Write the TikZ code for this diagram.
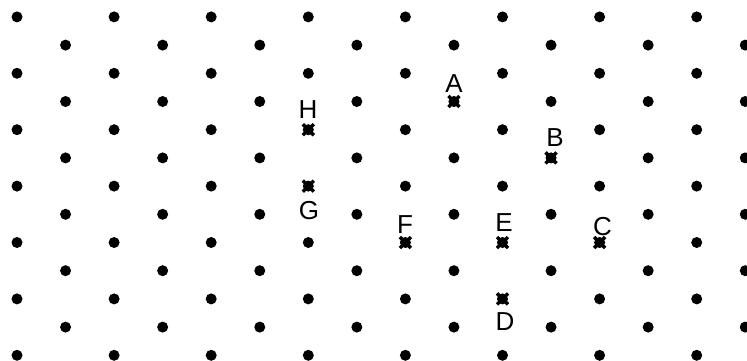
\documentclass[tikz,border=0pt]{standalone}
\usepackage{fontspec}
\setmainfont{Liberation Sans}
\begin{document}
\begin{tikzpicture}[x=1pt,y=-1pt,
  dot/.style={circle,fill=black,inner sep=0pt,minimum size=11pt},
  lbl/.style={anchor=base,inner sep=0pt,font=\fontsize{26}{30}\selectfont},
  markline/.style={line width=3.4pt,line cap=butt}]
\useasboundingbox (0,0) rectangle (747,360);
% lattice of dots
\foreach \r in {0,...,12}{
  \pgfmathtruncatemacro{\odd}{mod(\r,2)}
  \foreach \k in {0,...,7}{
    \pgfmathsetmacro{\xx}{17+48.55*\odd+97.1*\k}
    \pgfmathsetmacro{\yy}{16.9+28.2*\r}
    \node[dot] (d-\r-\k) at (\xx,\yy) {};
  }
}
% marked points
\foreach \n/\r/\k in {A/3/4,B/5/5,H/4/3,G/6/3,F/8/4,E/8/5,C/8/6,D/10/5}{
  \coordinate (p\n) at (d-\r-\k);
  \fill (p\n) circle (5pt);
  \draw[markline] ([shift={(-5.5,-5.5)}]p\n) -- ([shift={(5.5,5.5)}]p\n);
  \draw[markline] ([shift={(-5.5,5.5)}]p\n) -- ([shift={(5.5,-5.5)}]p\n);
}
% labels
\node[lbl] (lA) at (454,92.7) {A};
\node[lbl] (lB) at (555,146) {B};
\node[lbl] (lH) at (308,118) {H};
\node[lbl] (lG) at (309,219) {G};
\node[lbl] (lF) at (405,233.3) {F};
\node[lbl] (lE) at (504,231.7) {E};
\node[lbl] (lC) at (602.5,235) {C};
\node[lbl] (lD) at (505,330.5) {D};
\end{tikzpicture}
\end{document}
